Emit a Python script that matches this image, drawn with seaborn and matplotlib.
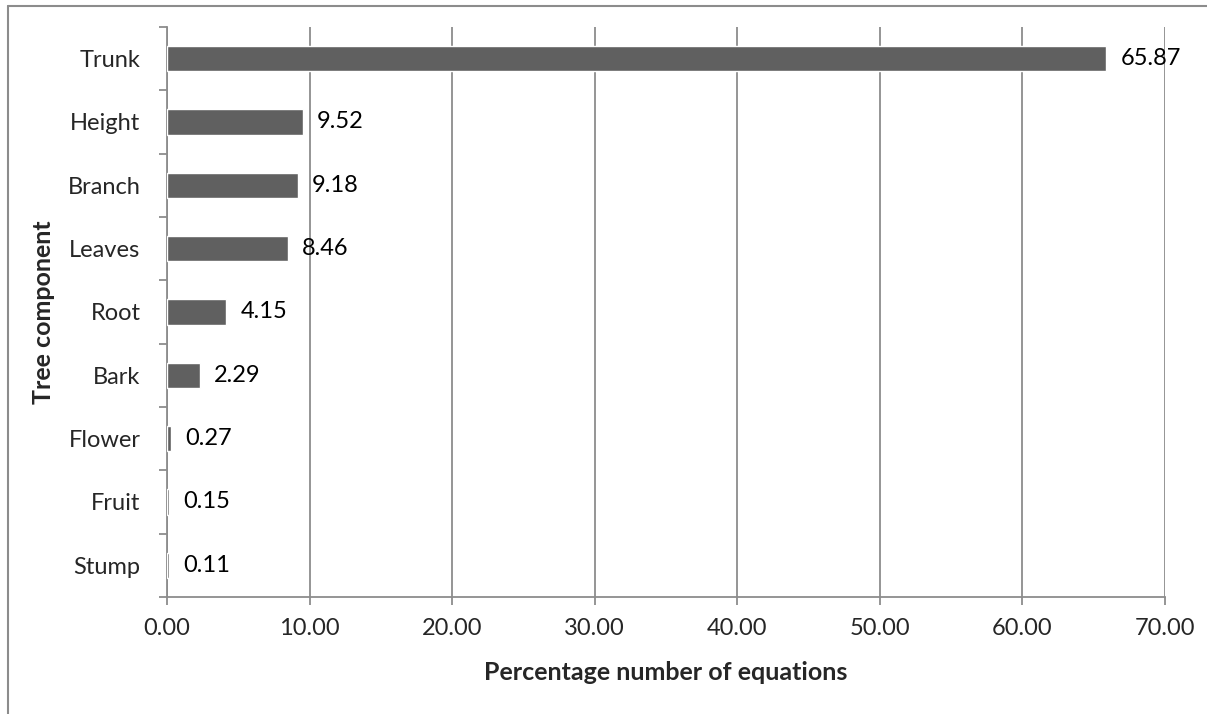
import matplotlib
matplotlib.use("Agg")
import matplotlib.pyplot as plt
from matplotlib.lines import Line2D
import seaborn as sns
import pandas as pd
import numpy as np

components = ["Trunk", "Height", "Branch", "Leaves", "Root", "Bark", "Flower", "Fruit", "Stump"]
percentages = [65.87, 9.52, 9.18, 8.46, 4.15, 2.29, 0.27, 0.15, 0.11]
x_ticks = [0, 10, 20, 30, 40, 50, 60, 70]

sns.set_style("white")
plt.rcParams["font.family"] = ["Lato", "DejaVu Sans"]

df = pd.DataFrame({"component": components, "pct": percentages})

W, H = 1207, 714
fig = plt.figure(figsize=(W / 100, H / 100), dpi=100)
ax = fig.add_axes([167 / W, 1 - 597 / H, (1165 - 167) / W, (597 - 27) / H])

grid_c = "#8c8c8c"
bar_c = "#606060"

sns.barplot(data=df, x="pct", y="component", orient="h", color=bar_c,
            width=0.4, saturation=1, ax=ax, zorder=3)

ax.set_xlim(0, 70)
ax.set_ylim(len(components) - 0.5, -0.5)
ax.set_xticks(x_ticks)
ax.set_xticklabels([f"{v:.2f}" for v in x_ticks], fontsize=17)
ax.tick_params(axis="x", bottom=True, length=6, width=1.3, color=grid_c,
               direction="out", pad=9)

# category labels centred, ticks drawn at the band boundaries
ax.tick_params(axis="y", which="major", left=True, length=0, pad=19, labelsize=17)
ax.set_yticks(np.arange(-0.5, len(components), 1.0), minor=True)
ax.tick_params(axis="y", which="minor", left=True, length=6, width=1.3,
               color=grid_c, direction="out")

ax.xaxis.grid(True, color=grid_c, linewidth=1.3, zorder=0)
ax.set_axisbelow(True)
for s in ["top", "right"]:
    ax.spines[s].set_visible(False)
for s in ["left", "bottom"]:
    ax.spines[s].set_color(grid_c)
    ax.spines[s].set_linewidth(1.3)

for i, v in enumerate(percentages):
    ax.text(v + 1.0, i, f"{v:.2f}", va="center", ha="left", fontsize=17,
            color="black", zorder=4)

ax.set_xlabel("Percentage number of equations", fontsize=18, fontweight="bold", labelpad=16)
ax.set_ylabel("Tree component", fontsize=18, fontweight="bold", labelpad=9)

# chart area border (top and left edges)
fig.add_artist(Line2D([8 / W, 8 / W], [0, 1 - 6 / H], transform=fig.transFigure,
                      color=grid_c, linewidth=1.5))
fig.add_artist(Line2D([8 / W, 1], [1 - 6 / H, 1 - 6 / H], transform=fig.transFigure,
                      color=grid_c, linewidth=1.5))

fig.savefig("out.png", dpi=100)
